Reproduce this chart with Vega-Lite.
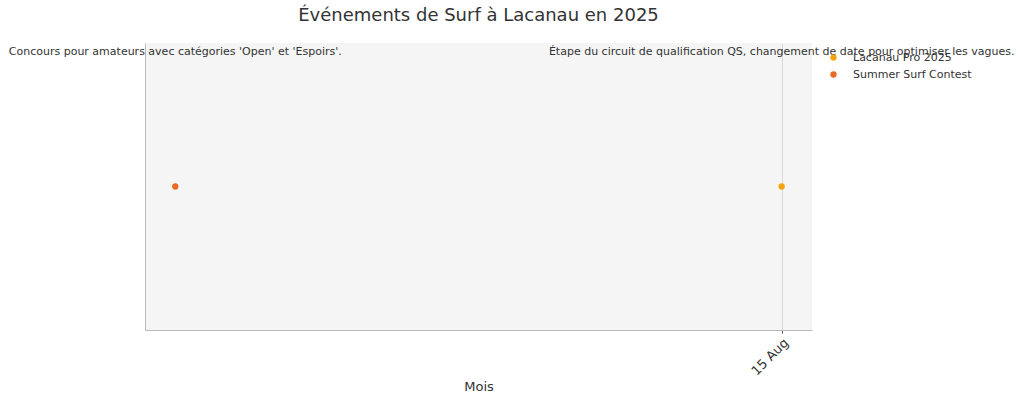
{
  "$schema": "https://vega.github.io/schema/vega-lite/v6.json",
  "autosize": "none",
  "width": 667,
  "height": 287,
  "padding": {"left": 145, "top": 43, "right": 212, "bottom": 72},
  "background": "white",
  "title": {
    "text": "Événements de Surf à Lacanau en 2025",
    "font": "DejaVu Sans",
    "fontSize": 18,
    "fontWeight": "normal",
    "color": "#333333",
    "anchor": "middle",
    "offset": 18
  },
  "data": {
    "values": [
      {"evenement": "Summer Surf Contest", "date": "2025-07-05T00:00:00", "note": "Concours pour amateurs avec catégories 'Open' et 'Espoirs'."},
      {"evenement": "Lacanau Pro 2025", "date": "2025-08-15T00:00:00", "note": "Étape du circuit de qualification QS, changement de date pour optimiser les vagues."}
    ]
  },
  "encoding": {
    "x": {
      "field": "date",
      "type": "temporal",
      "title": "Mois",
      "scale": {
        "domain": [
          {"year": 2025, "month": 7, "date": 2, "hours": 22, "minutes": 48},
          {"year": 2025, "month": 8, "date": 17, "hours": 1, "minutes": 12}
        ]
      },
      "axis": {
        "values": [{"year": 2025, "month": 8, "date": 15}],
        "format": "%d %b",
        "labelAngle": -45,
        "labelFont": "DejaVu Sans",
        "labelFontSize": 13,
        "labelColor": "#333333",
        "labelPadding": 3,
        "tickColor": "#555555",
        "tickSize": 3,
        "domainColor": "#bbbbbb",
        "grid": true,
        "gridColor": "#d0d0d0",
        "gridWidth": 0.8,
        "titleFont": "DejaVu Sans",
        "titleFontSize": 13,
        "titleFontWeight": "normal",
        "titleColor": "#333333",
        "titleY": 50
      }
    }
  },
  "layer": [
    {
      "mark": {"type": "circle", "size": 40, "opacity": 1},
      "encoding": {
        "y": {
          "datum": 0,
          "type": "quantitative",
          "scale": {"domain": [-1, 1]},
          "axis": {"labels": false, "ticks": false, "grid": false, "title": null, "domainColor": "#bbbbbb"}
        },
        "color": {
          "field": "evenement",
          "type": "nominal",
          "scale": {
            "domain": ["Lacanau Pro 2025", "Summer Surf Contest"],
            "range": ["#f5a30c", "#ea6a25"]
          },
          "legend": {
            "title": null,
            "orient": "none",
            "legendX": 683,
            "legendY": 9,
            "padding": 0,
            "symbolType": "circle",
            "symbolSize": 40,
            "symbolOpacity": 1,
            "labelFont": "DejaVu Sans",
            "labelFontSize": 11,
            "labelColor": "#333333",
            "labelOffset": 14,
            "rowPadding": 5
          }
        }
      }
    },
    {
      "mark": {
        "type": "text",
        "font": "DejaVu Sans",
        "fontSize": 11,
        "color": "#333333",
        "align": "center",
        "baseline": "middle"
      },
      "encoding": {
        "y": {"datum": 0.94, "type": "quantitative"},
        "text": {"field": "note"}
      }
    }
  ],
  "config": {
    "view": {"fill": "#f5f5f5", "stroke": null}
  }
}
